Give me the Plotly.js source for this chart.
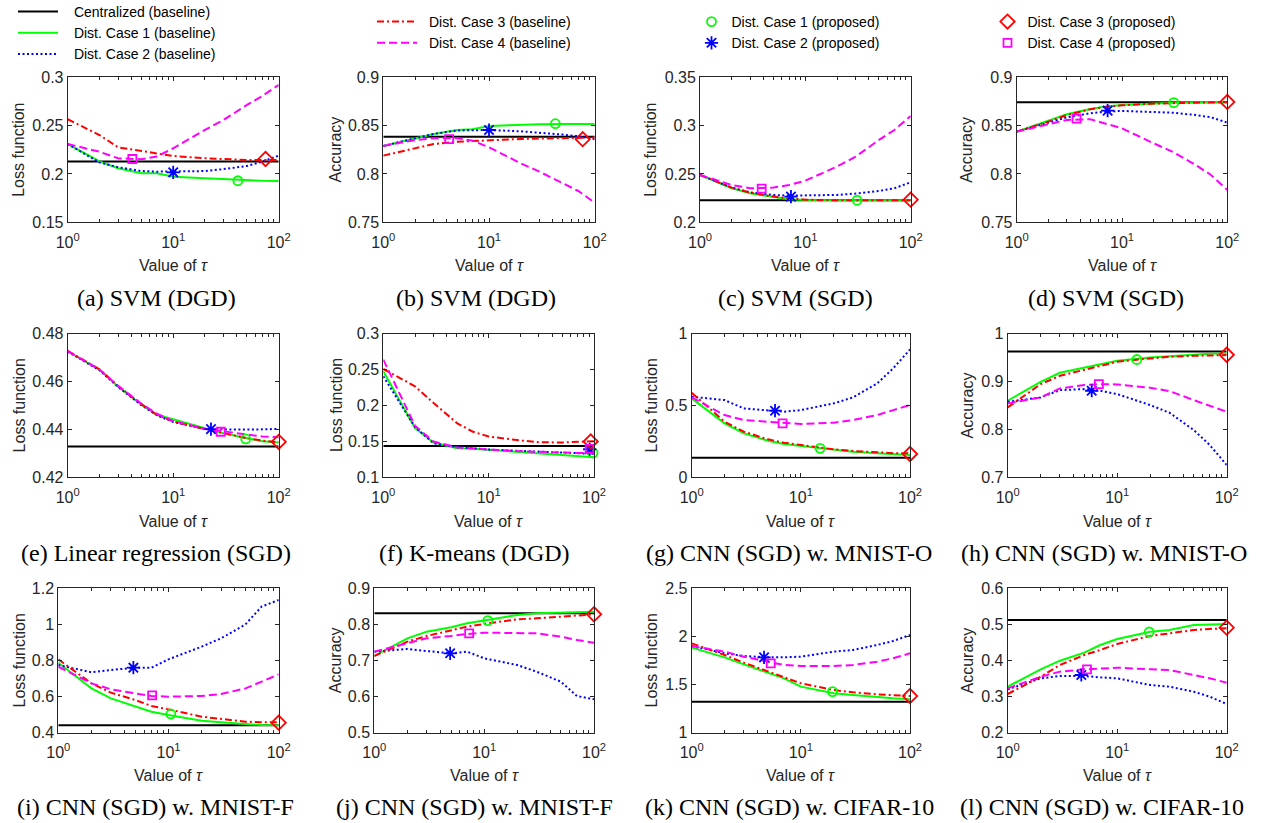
<!DOCTYPE html>
<html><head><meta charset="utf-8">
<script src="https://cdn.plot.ly/plotly-3.0.1.min.js"></script>
<style>html,body{margin:0;padding:0;background:#fff}#chart{width:1261px;height:823px}</style>
</head><body><div id="chart"></div>
<script>
// ---------------- DATA ----------------
const tau = [1, 2, 3, 5, 7, 10, 20, 30, 50, 70, 100];
const xTickVals = [1, 10, 100];
const xTickText = ['10<sup>0</sup>', '10<sup>1</sup>', '10<sup>2</sup>'];
const xMinorTicks = [2,3,4,5,6,7,8,9,20,30,40,50,60,70,80,90];
const lineNames = ['Centralized (baseline)', 'Dist. Case 1 (baseline)', 'Dist. Case 2 (baseline)', 'Dist. Case 3 (baseline)', 'Dist. Case 4 (baseline)'];
const propNames = ['Dist. Case 1 (proposed)', 'Dist. Case 2 (proposed)', 'Dist. Case 3 (proposed)', 'Dist. Case 4 (proposed)'];

// (a) SVM (DGD) loss
const a_central = 0.2128;
const a_case1 = [0.231, 0.213, 0.206, 0.2007, 0.2007, 0.1972, 0.1955, 0.1945, 0.193, 0.1929, 0.1928];
const a_case2 = [0.231, 0.212, 0.207, 0.203, 0.2024, 0.2024, 0.203, 0.205, 0.2083, 0.2128, 0.219];
const a_case3 = [0.2566, 0.2403, 0.2276, 0.2241, 0.2214, 0.2186, 0.2162, 0.2152, 0.2145, 0.2145, 0.2145];
const a_case4 = [0.231, 0.223, 0.2162, 0.2152, 0.218, 0.2266, 0.2455, 0.2559, 0.2714, 0.2807, 0.2921];
const a_propTau = [41, 10, 75, 4.1];
const a_propVal = [0.193, 0.2017, 0.2155, 0.2155];
const a_yTicks = [0.15, 0.2, 0.25, 0.3];

// (b) SVM (DGD) accuracy
const b_central = 0.8386;
const b_case1 = [0.829, 0.8369, 0.8414, 0.8455, 0.8462, 0.8497, 0.851, 0.8514, 0.8517, 0.8517, 0.8517];
const b_case2 = [0.829, 0.837, 0.8414, 0.845, 0.8455, 0.8455, 0.8441, 0.8428, 0.8407, 0.839, 0.8359];
const b_case3 = [0.819, 0.8266, 0.831, 0.8334, 0.8341, 0.8352, 0.8362, 0.8366, 0.8369, 0.8372, 0.8376];
const b_case4 = [0.829, 0.835, 0.837, 0.837, 0.8345, 0.8276, 0.811, 0.8024, 0.7903, 0.7824, 0.7703];
const b_propTau = [42.4, 10, 77, 4.2];
const b_propVal = [0.852, 0.8455, 0.836, 0.836];
const b_yTicks = [0.75, 0.8, 0.85, 0.9];

// (c) SVM (SGD) loss
const c_central = 0.2228;
const c_case1 = [0.249, 0.2352, 0.23, 0.2259, 0.2238, 0.2231, 0.2228, 0.2228, 0.2228, 0.2228, 0.2228];
const c_case2 = [0.249, 0.2359, 0.231, 0.2283, 0.2276, 0.2276, 0.2283, 0.2297, 0.2324, 0.2352, 0.2414];
const c_case3 = [0.249, 0.2359, 0.2307, 0.2266, 0.2248, 0.2234, 0.2228, 0.2228, 0.2228, 0.2228, 0.2228];
const c_case4 = [0.249, 0.2386, 0.2352, 0.2359, 0.2386, 0.2431, 0.2576, 0.2679, 0.2852, 0.2955, 0.31];
const c_propTau = [31, 7.3, 100, 3.85];
const c_propVal = [0.2228, 0.2266, 0.2234, 0.2348];
const c_yTicks = [0.2, 0.25, 0.3, 0.35];

// (d) SVM (SGD) accuracy
const d_central = 0.8741;
const d_case1 = [0.8438, 0.8552, 0.8617, 0.8672, 0.8697, 0.8714, 0.8731, 0.8738, 0.8741, 0.8743, 0.8745];
const d_case2 = [0.8438, 0.8534, 0.8586, 0.8628, 0.8645, 0.8652, 0.8645, 0.8634, 0.861, 0.8586, 0.8531];
const d_case3 = [0.8438, 0.8541, 0.861, 0.8669, 0.8693, 0.871, 0.8728, 0.8734, 0.8741, 0.8743, 0.8745];
const d_case4 = [0.8438, 0.8514, 0.8559, 0.8566, 0.8524, 0.8472, 0.8317, 0.8231, 0.8093, 0.799, 0.7834];
const d_propTau = [31, 7.3, 100, 3.7];
const d_propVal = [0.8738, 0.8655, 0.8745, 0.8572];
const d_yTicks = [0.75, 0.8, 0.85, 0.9];

// (e) Linear regression (SGD) loss
const e_central = 0.4328;
const e_case1 = [0.4726, 0.4649, 0.4579, 0.4503, 0.4461, 0.4443, 0.4405, 0.4384, 0.4362, 0.435, 0.4345];
const e_case2 = [0.4724, 0.4647, 0.4577, 0.4501, 0.4459, 0.4431, 0.4401, 0.4399, 0.4399, 0.44, 0.4402];
const e_case3 = [0.4728, 0.4651, 0.4581, 0.4505, 0.4461, 0.4433, 0.4401, 0.4384, 0.4363, 0.4353, 0.4346];
const e_case4 = [0.4726, 0.465, 0.4582, 0.4507, 0.4465, 0.4435, 0.4402, 0.4391, 0.4377, 0.437, 0.4367];
const e_propTau = [48.7, 22.8, 100, 28.2];
const e_propVal = [0.436, 0.4401, 0.4348, 0.439];
const e_yTicks = [0.42, 0.44, 0.46, 0.48];

// (f) K-means (DGD) loss
const f_central = 0.1437;
const f_case1 = [0.2474, 0.1684, 0.1484, 0.1405, 0.1398, 0.1381, 0.1358, 0.1335, 0.1312, 0.1298, 0.1279];
const f_case2 = [0.2405, 0.1698, 0.1474, 0.1419, 0.1405, 0.1386, 0.1367, 0.1358, 0.1344, 0.1335, 0.1326];
const f_case3 = [0.2507, 0.2265, 0.2033, 0.1754, 0.1637, 0.1567, 0.1512, 0.1488, 0.1484, 0.1488, 0.1502];
const f_case4 = [0.2637, 0.1716, 0.1498, 0.1415, 0.1405, 0.1386, 0.1363, 0.1353, 0.1344, 0.1338, 0.1335];
const f_propTau = [98, 91, 93, 91];
const f_propVal = [0.134, 0.139, 0.1498, 0.1395];
const f_yTicks = [0.1, 0.15, 0.2, 0.25, 0.3];

// (g) CNN (SGD) w. MNIST-O loss
const g_central = 0.1366;
const g_case1 = [0.5486, 0.375, 0.3056, 0.2546, 0.2315, 0.2176, 0.1898, 0.1782, 0.1667, 0.16, 0.1551];
const g_case2 = [0.5602, 0.537, 0.4792, 0.463, 0.456, 0.4676, 0.5139, 0.5556, 0.6528, 0.757, 0.8889];
const g_case3 = [0.588, 0.3866, 0.3171, 0.2639, 0.2407, 0.2245, 0.1944, 0.1829, 0.1713, 0.168, 0.1667];
const g_case4 = [0.5556, 0.4329, 0.3981, 0.3866, 0.375, 0.3704, 0.3796, 0.3981, 0.4329, 0.4676, 0.5023];
const g_propTau = [15, 5.8, 100, 6.8];
const g_propVal = [0.2014, 0.463, 0.162, 0.375];
const g_yTicks = [0, 0.5, 1];

// (h) CNN (SGD) w. MNIST-O accuracy
const h_central = 0.9625;
const h_case1 = [0.8597, 0.8993, 0.918, 0.9292, 0.9361, 0.9431, 0.95, 0.9528, 0.9563, 0.9575, 0.9583];
const h_case2 = [0.8576, 0.8667, 0.8819, 0.884, 0.8806, 0.8736, 0.8507, 0.8347, 0.7986, 0.7674, 0.7257];
const h_case3 = [0.8458, 0.8944, 0.9118, 0.9236, 0.9319, 0.941, 0.9479, 0.9514, 0.9535, 0.9542, 0.9549];
const h_case4 = [0.8542, 0.8667, 0.8854, 0.8924, 0.8944, 0.8938, 0.8868, 0.8799, 0.8611, 0.8486, 0.8368];
const h_propTau = [15.1, 5.85, 100, 6.8];
const h_propVal = [0.9458, 0.8806, 0.9556, 0.8944];
const h_yTicks = [0.7, 0.8, 0.9, 1];

// (i) CNN (SGD) w. MNIST-F loss
const i_central = 0.4406;
const i_case1 = [0.788, 0.6457, 0.5903, 0.5441, 0.5164, 0.4979, 0.4665, 0.4573, 0.448, 0.4425, 0.4406];
const i_case2 = [0.775, 0.7344, 0.7473, 0.7603, 0.76, 0.8065, 0.8767, 0.9229, 1.0005, 1.0984, 1.1353];
const i_case3 = [0.8065, 0.6734, 0.6217, 0.581, 0.5478, 0.5293, 0.4887, 0.4758, 0.461, 0.4573, 0.4573];
const i_case4 = [0.7658, 0.6734, 0.6402, 0.618, 0.6033, 0.5996, 0.6033, 0.6143, 0.6457, 0.6827, 0.7233];
const i_propTau = [10.5, 4.8, 100, 7.1];
const i_propVal = [0.5035, 0.7603, 0.4554, 0.607];
const i_yTicks = [0.4, 0.6, 0.8, 1, 1.2];

// (j) CNN (SGD) w. MNIST-F accuracy
const j_central = 0.8307;
const j_case1 = [0.7125, 0.7614, 0.7799, 0.7919, 0.803, 0.8104, 0.8261, 0.8307, 0.8335, 0.8345, 0.8353];
const j_case2 = [0.7245, 0.7319, 0.7263, 0.7199, 0.7245, 0.706, 0.6875, 0.669, 0.6413, 0.6016, 0.5924];
const j_case3 = [0.7125, 0.7522, 0.7679, 0.7845, 0.7938, 0.8012, 0.8141, 0.8168, 0.8215, 0.8261, 0.8279];
const j_case4 = [0.7245, 0.7476, 0.7614, 0.7679, 0.7734, 0.7771, 0.7771, 0.7753, 0.766, 0.7568, 0.7494];
const j_propTau = [10.8, 4.9, 100, 7.3];
const j_propVal = [0.8104, 0.72, 0.828, 0.7753];
const j_yTicks = [0.5, 0.6, 0.7, 0.8, 0.9];

// (k) CNN (SGD) w. CIFAR-10 loss
const k_central = 1.3222;
const k_case1 = [1.8834, 1.7829, 1.7102, 1.627, 1.5647, 1.4781, 1.4088, 1.3915, 1.3672, 1.3568, 1.3464];
const k_case2 = [1.9007, 1.8245, 1.7968, 1.7829, 1.7829, 1.7898, 1.8418, 1.8591, 1.9111, 1.9527, 2.015];
const k_case3 = [1.9284, 1.8072, 1.7275, 1.6339, 1.5751, 1.5127, 1.4434, 1.4192, 1.3984, 1.388, 1.3811];
const k_case4 = [1.9, 1.8418, 1.7898, 1.738, 1.7032, 1.6928, 1.6928, 1.7032, 1.738, 1.7725, 1.8245];
const k_propTau = [19.5, 4.6, 100, 5.3];
const k_propVal = [1.4261, 1.783, 1.381, 1.7206];
const k_yTicks = [1, 1.5, 2, 2.5];

// (l) CNN (SGD) w. CIFAR-10 accuracy
const l_central = 0.5122;
const l_case1 = [0.3275, 0.3755, 0.3995, 0.4217, 0.443, 0.4596, 0.4799, 0.4845, 0.4984, 0.4995, 0.5012];
const l_case2 = [0.3201, 0.3506, 0.357, 0.357, 0.3533, 0.3506, 0.332, 0.3275, 0.3136, 0.2998, 0.2794];
const l_case3 = [0.3072, 0.3552, 0.3875, 0.4152, 0.4291, 0.4457, 0.4679, 0.4753, 0.4845, 0.4875, 0.4891];
const l_case4 = [0.3229, 0.3552, 0.3691, 0.3755, 0.3774, 0.3801, 0.3755, 0.3737, 0.3598, 0.3506, 0.3386];
const l_propTau = [19.6, 4.7, 100, 5.3];
const l_propVal = [0.479, 0.3598, 0.491, 0.3755];
const l_yTicks = [0.2, 0.3, 0.4, 0.5, 0.6];

const yLabels = ['Loss function','Accuracy','Loss function','Accuracy','Loss function','Loss function','Loss function','Accuracy','Loss function','Accuracy','Loss function','Accuracy'];
const captions = ['(a) SVM (DGD)','(b) SVM (DGD)','(c) SVM (SGD)','(d) SVM (SGD)','(e) Linear regression (SGD)','(f) K-means (DGD)','(g) CNN (SGD) w. MNIST-O','(h) CNN (SGD) w. MNIST-O','(i) CNN (SGD) w. MNIST-F','(j) CNN (SGD) w. MNIST-F','(k) CNN (SGD) w. CIFAR-10','(l) CNN (SGD) w. CIFAR-10'];
const xLabel = 'Value of <i>τ</i>';

// ---------------- LAYOUT / STYLE ----------------
const W = 1261, H = 823;
const panels = [
  {c:a_central, s:[a_case1,a_case2,a_case3,a_case4], pt:a_propTau, pv:a_propVal, yt:a_yTicks},
  {c:b_central, s:[b_case1,b_case2,b_case3,b_case4], pt:b_propTau, pv:b_propVal, yt:b_yTicks},
  {c:c_central, s:[c_case1,c_case2,c_case3,c_case4], pt:c_propTau, pv:c_propVal, yt:c_yTicks},
  {c:d_central, s:[d_case1,d_case2,d_case3,d_case4], pt:d_propTau, pv:d_propVal, yt:d_yTicks},
  {c:e_central, s:[e_case1,e_case2,e_case3,e_case4], pt:e_propTau, pv:e_propVal, yt:e_yTicks},
  {c:f_central, s:[f_case1,f_case2,f_case3,f_case4], pt:f_propTau, pv:f_propVal, yt:f_yTicks},
  {c:g_central, s:[g_case1,g_case2,g_case3,g_case4], pt:g_propTau, pv:g_propVal, yt:g_yTicks},
  {c:h_central, s:[h_case1,h_case2,h_case3,h_case4], pt:h_propTau, pv:h_propVal, yt:h_yTicks},
  {c:i_central, s:[i_case1,i_case2,i_case3,i_case4], pt:i_propTau, pv:i_propVal, yt:i_yTicks},
  {c:j_central, s:[j_case1,j_case2,j_case3,j_case4], pt:j_propTau, pv:j_propVal, yt:j_yTicks},
  {c:k_central, s:[k_case1,k_case2,k_case3,k_case4], pt:k_propTau, pv:k_propVal, yt:k_yTicks},
  {c:l_central, s:[l_case1,l_case2,l_case3,l_case4], pt:l_propTau, pv:l_propVal, yt:l_yTicks}
];
// plot boxes in px: [left, right, top, bottom]
const boxes = [
  [67.7, 278.7, 77.3, 222.3], [383.3, 594.7, 77.3, 222.3], [700, 910.7, 77.3, 222.3], [1016.7, 1227.3, 77.3, 222.3],
  [67.7, 278.7, 333.5, 477.3], [383.3, 594, 333.5, 477.3], [691.7, 910, 333.5, 477.3], [1007.7, 1226.7, 333.5, 477.3],
  [58.3, 278.7, 588.3, 732.7], [374.3, 594, 588.3, 732.7], [691.7, 910, 588.3, 732.7], [1007.7, 1226.7, 588.3, 732.7]
];
const yTitleX = [19, 335.7, 651, 967, 19, 336.7, 651, 967, 19, 335.7, 651, 967];
const xTitleY = [265, 521, 775];
const capX = [156, 476, 795, 1106, 156, 474, 789, 1104, 155, 474, 789, 1102];
const capY = [298, 553, 807];

const lineColors = ['#000000', '#00ff00', '#0000ff', '#ff0000', '#ff00ff'];
const lineDash = ['solid', 'solid', '2px,2.5px', '7px,3px,2px,3px', '8px,4px'];
const lineLegend = ['legend', 'legend', 'legend', 'legend2', 'legend2'];
const linePad = ['\u2002\u00a0', '\u2002\u00a0', '\u2002\u00a0', '\u2002', '\u2002'];
const propColors = ['#00ff00', '#0000ff', '#ff0000', '#ff00ff'];
const propSymbols = ['circle-open', 'asterisk-open', 'diamond-open', 'square-open'];
const propSizes = [9, 11, 11, 8];
const propLegend = ['legend3', 'legend3', 'legend4', 'legend4'];

const SANS = 'Liberation Sans, Arial, Helvetica, sans-serif';
const SERIF = 'Liberation Serif, Times New Roman, serif';
const AX = '#262626';
const legFont = {family: SANS, size: 14, color: '#000'};

const traces = [];
const layout = {
  width: W, height: H,
  margin: {l: 0, r: 0, t: 0, b: 0, autoexpand: false},
  paper_bgcolor: '#fff', plot_bgcolor: '#fff',
  font: {family: SANS, color: AX},
  annotations: [],
  legend:  {x: 13/W,    y: 1 + 4/H, xanchor: 'left', yanchor: 'top', bgcolor: 'rgba(0,0,0,0)', font: legFont, itemwidth: 40, tracegroupgap: 0},
  legend2: {x: 372/W,   y: 1 - 6/H, xanchor: 'left', yanchor: 'top', bgcolor: 'rgba(0,0,0,0)', font: legFont, itemwidth: 40, tracegroupgap: 0},
  legend3: {x: 691.5/W, y: 1 - 6/H, xanchor: 'left', yanchor: 'top', bgcolor: 'rgba(0,0,0,0)', font: legFont, itemwidth: 30, tracegroupgap: 0},
  legend4: {x: 987.5/W, y: 1 - 6/H, xanchor: 'left', yanchor: 'top', bgcolor: 'rgba(0,0,0,0)', font: legFont, itemwidth: 30, tracegroupgap: 0}
};

panels.forEach((p, idx) => {
  const n = idx + 1;
  const xa = 'x' + (n === 1 ? '' : n), ya = 'y' + (n === 1 ? '' : n);
  const xk = 'xaxis' + (n === 1 ? '' : n), yk = 'yaxis' + (n === 1 ? '' : n);
  const first = idx === 0;
  const ys = [tau.map(() => p.c)].concat(p.s);
  ys.forEach((y, si) => {
    traces.push({
      type: 'scatter', mode: 'lines', x: tau, y: y, xaxis: xa, yaxis: ya,
      name: linePad[si] + lineNames[si], legend: lineLegend[si], showlegend: first,
      line: {color: lineColors[si], width: 2, dash: lineDash[si]}, hoverinfo: 'skip'
    });
  });
  p.pt.forEach((t, k) => {
    traces.push({
      type: 'scatter', mode: 'markers', x: [t], y: [p.pv[k]], xaxis: xa, yaxis: ya,
      name: propNames[k], legend: propLegend[k], showlegend: first, cliponaxis: false,
      marker: {symbol: propSymbols[k], size: propSizes[k], color: propColors[k], line: {color: propColors[k], width: 1.8}}, hoverinfo: 'skip'
    });
  });
  const b = boxes[idx];
  const yr = [p.yt[0], p.yt[p.yt.length - 1]];
  layout[xk] = {
    domain: [b[0] / W, b[1] / W], anchor: ya, type: 'log', range: [0, 2],
    showline: true, linecolor: AX, linewidth: 1, mirror: 'ticks',
    ticks: 'inside', ticklen: 4, tickwidth: 1, tickcolor: AX,
    tickvals: xTickVals, ticktext: xTickText, ticklabelstandoff: 5,
    tickfont: {family: SANS, size: 16, color: AX},
    minor: {tickvals: xMinorTicks, ticks: 'inside', ticklen: 3, tickwidth: 1, tickcolor: AX, showgrid: false},
    showgrid: false, zeroline: false, fixedrange: true
  };
  layout[yk] = {
    domain: [1 - b[3] / H, 1 - b[2] / H], anchor: xa, range: yr,
    showline: true, linecolor: AX, linewidth: 1, mirror: 'ticks',
    ticks: 'inside', ticklen: 4, tickwidth: 1, tickcolor: AX,
    tickvals: p.yt, ticktext: p.yt.map(String),
    tickfont: {family: SANS, size: 16, color: AX},
    showgrid: false, zeroline: false, fixedrange: true
  };
  const row = Math.floor(idx / 4);
  layout.annotations.push({
    xref: 'paper', yref: 'paper', x: yTitleX[idx] / W, y: 1 - ((b[2] + b[3]) / 2) / H,
    text: yLabels[idx], textangle: -90, showarrow: false, xanchor: 'center', yanchor: 'middle',
    font: {family: SANS, size: 16, color: AX}
  });
  layout.annotations.push({
    xref: 'paper', yref: 'paper', x: ((b[0] + b[1]) / 2) / W, y: 1 - xTitleY[row] / H,
    text: xLabel, showarrow: false, xanchor: 'center', yanchor: 'middle',
    font: {family: SANS, size: 16, color: AX}
  });
  layout.annotations.push({
    xref: 'paper', yref: 'paper', x: capX[idx] / W, y: 1 - capY[row] / H,
    text: captions[idx], showarrow: false, xanchor: 'center', yanchor: 'middle',
    font: {family: SERIF, size: 24, color: '#000'}
  });
});

Plotly.newPlot('chart', traces, layout, {staticPlot: true, displayModeBar: false});
</script>
</body></html>
